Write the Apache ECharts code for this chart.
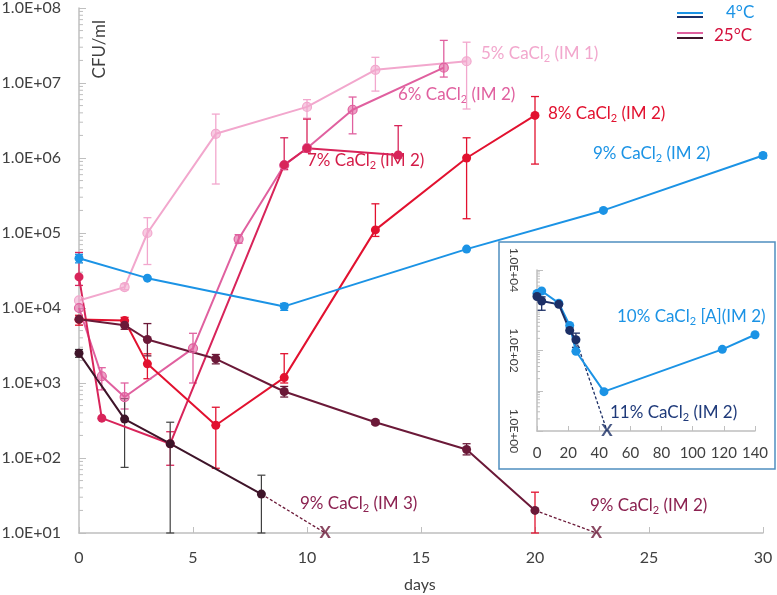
<!DOCTYPE html>
<html><head><meta charset="utf-8">
<script src="https://cdn.jsdelivr.net/npm/echarts@6/dist/echarts.min.js"></script>
<style>html,body{margin:0;padding:0;background:#fff}#c{width:777px;height:595px}</style>
</head><body><div id="c"></div>
<script>
// ---------- data (days, CFU/ml) ----------
const days5 = [0, 2, 3, 6, 10, 13, 17];
const cfu5  = [12600, 19000, 100000, 2100000, 4800000, 15000000, 19500000];
const err5  = [[2, 17500, 21000], [3, 38000, 160000], [6, 450000, 3850000], [10, 3400000, 6000000], [13, 7800000, 22000000], [17, 4500000, 35000000]];

const days6 = [0, 1, 2, 5, 7, 9, 10, 12, 16];
const cfu6  = [10000, 1230, 650, 2900, 83000, 800000, 1350000, 4400000, 16000000];
const err6  = [[1, 810, 1600], [2, 450, 1000], [5, 1000, 4600], [7, 73000, 95000], [12, 2100000, 6500000], [16, 12000000, 37000000]];

const days7 = [0, 1, 4, 9, 10, 14];
const cfu7  = [26000, 340, 155, 810000, 1350000, 1100000];
const err7  = [[0, 20000, 55000], [4, 80, 224], [9, 700000, 1860000], [10, 1200000, 3300000], [14, 1000000, 2700000]];

const days8 = [0, 2, 3, 6, 9, 13, 17, 20];
const cfu8  = [7000, 6800, 1800, 273, 1180, 110000, 1000000, 3700000];
const err8  = [[0, 5900, 8000], [2, 6000, 7500], [3, 1140, 2450], [6, 73, 475], [9, 1000, 2460], [13, 90000, 245000], [17, 155000, 1860000], [20, 830000, 6600000]];

const days9b = [0, 3, 9, 17, 23, 30];            // 4°C, 9% (IM 2)
const cfu9b  = [46000, 25000, 10500, 61000, 200000, 1080000];
const err9b  = [[0, 40000, 52000], [9, 9300, 11500], [30, 1000000, 1150000]];

const days9m = [0, 2, 3, 6, 9, 13, 17, 20];      // 25°C, 9% (IM 2)
const cfu9m  = [7100, 5900, 3800, 2100, 770, 300, 130, 20];
const err9m  = [[2, 5200, 6600], [3, 2300, 6200], [6, 1800, 2400], [9, 650, 900], [13, 280, 320], [17, 110, 155]];
const err9mRed = [[20, 10, 35]];
const x9m = [22.7, 10];

const days9d = [0, 2, 4, 8];                     // 25°C, 9% (IM 3)
const cfu9d  = [2500, 330, 155, 33];
const err9d  = [[0, 2200, 2800], [2, 75, 620], [4, 10, 300], [8, 10, 59]];
const x9d = [10.8, 10];

// inset (4°C)
const days10 = [0, 3, 14, 21, 25, 43, 119, 140];
const cfu10  = [2600, 3000, 1500, 420, 96, 9.5, 107, 246];
const days11 = [0, 3, 14, 21, 25];
const cfu11  = [2200, 1700, 1400, 316, 185];
const err11  = [[3, 1000, 2150], [25, 120, 270]];
const x11 = [45, 1];

const mainXTicks = [0, 30, 5];
const insetXTicks = [0, 140, 20];
const minorMult = [2, 3, 4, 5, 6, 7, 8, 9];
const mainDecades = [10, 100, 1000, 10000, 100000, 1000000, 10000000];
const insetDecades = [1, 10, 100, 1000];

// ---------- styling ----------
const c5 = '#f2a7cd', c6 = '#e0609f', c7 = '#d8245a', c8 = '#e2112f';
const cBlue = '#1b93e5', cMaroon = '#6b1938', cDark = '#3e1429', cNavy = '#1c2f66';
const cLabMaroon = '#8b2150';
const axisCol = '#bfbfbf', txtCol = '#404040';
const FONT = 'Lato, "Open Sans", sans-serif';

const zip = (xs, ys) => xs.map((x, i) => [x, ys[i]]);
const fmtE = v => { const e = Math.round(Math.log10(v)); return '1.0E' + (e < 0 ? '-' : '+') + String(Math.abs(e)).padStart(2, '0'); };

function lineS(xs, ys, color, gi, extra) {
  return Object.assign({
    type: 'line', data: zip(xs, ys), xAxisIndex: gi, yAxisIndex: gi,
    symbol: 'circle', symbolSize: 9, showSymbol: true,
    lineStyle: { color, width: 2 }, itemStyle: { color }, z: 3, animation: false, silent: true
  }, extra || {});
}
function openS(xs, ys, color, rgba, gi) {
  return lineS(xs, ys, color, gi, { itemStyle: { color: rgba, borderColor: color, borderWidth: 1.2 } });
}
function dashS(from, to, color, gi) {
  return { type: 'line', data: [from, to], xAxisIndex: gi, yAxisIndex: gi, symbol: 'none',
    lineStyle: { color, width: 1.3, type: [3, 2] }, z: 2, animation: false, silent: true };
}
function xMark(pt, color, gi) {
  return { type: 'scatter', data: [pt], xAxisIndex: gi, yAxisIndex: gi, symbolSize: 2, clip: false,
    itemStyle: { color: 'rgba(0,0,0,0)' }, z: 6, animation: false, silent: true,
    label: { show: true, position: 'inside', formatter: 'X', color, fontWeight: 'bold', fontSize: 17, fontFamily: FONT } };
}
function errS(data, color, gi, lw) {
  return { type: 'custom', xAxisIndex: gi, yAxisIndex: gi, data, silent: true, z: 2, animation: false,
    encode: { x: 0, y: [1, 2] },
    renderItem: (params, api) => {
      const x = api.value(0), lo = api.value(1), hi = api.value(2);
      const a = api.coord([x, hi]), b = api.coord([x, lo]);
      const w = 4, st = { stroke: color, lineWidth: lw || 1.3 };
      return { type: 'group', children: [
        { type: 'line', shape: { x1: a[0], y1: a[1], x2: b[0], y2: b[1] }, style: st },
        { type: 'line', shape: { x1: a[0] - w, y1: a[1], x2: a[0] + w, y2: a[1] }, style: st },
        { type: 'line', shape: { x1: b[0] - w, y1: b[1], x2: b[0] + w, y2: b[1] }, style: st }
      ] };
    } };
}
function minorS(decades, gi, len) {
  const data = [];
  decades.forEach(d => minorMult.forEach(m => data.push([0, d * m])));
  return { type: 'custom', xAxisIndex: gi, yAxisIndex: gi, data, silent: true, z: 1, animation: false,
    encode: { x: 0, y: 1 }, clip: false,
    renderItem: (params, api) => {
      const p = api.coord([api.value(0), api.value(1)]);
      return { type: 'line', shape: { x1: p[0], y1: p[1], x2: p[0] + len, y2: p[1] }, style: { stroke: axisCol, lineWidth: 1 } };
    } };
}

const chart = echarts.init(document.getElementById('c'), null, { renderer: 'canvas' });

function lbl(x, y, pre, post, color, size) {
  size = size || 17;
  return { type: 'text', left: x, top: y - 12, silent: true,
    style: { text: '{n|' + pre + '}{s|2}{n|' + post + '}', fill: color,
      rich: { n: { fontSize: size, fontFamily: FONT, fill: color, lineHeight: 24, verticalAlign: 'middle' },
              s: { fontSize: Math.round(size * 0.65), fontFamily: FONT, fill: color, lineHeight: 24, verticalAlign: 'bottom', padding: [0, 0, 2, 0] } } } };
}

const yLab = { color: txtCol, fontSize: 16, fontFamily: FONT, margin: 18, formatter: fmtE };

chart.setOption({
  animation: false,
  backgroundColor: '#fff',
  grid: [
    { left: 79, right: 14, top: 8, bottom: 62, containLabel: false, outerBoundsMode: 'none' },
    { left: 537, width: 218, top: 270, height: 161, containLabel: false, outerBoundsMode: 'none' }
  ],
  xAxis: [
    { type: 'value', gridIndex: 0, min: mainXTicks[0], max: mainXTicks[1], interval: mainXTicks[2],
      axisLine: { lineStyle: { color: axisCol, width: 1.5 } },
      axisTick: { show: true, inside: true, length: 6, lineStyle: { color: axisCol } },
      splitLine: { show: false },
      axisLabel: { color: txtCol, fontSize: 16, fontFamily: FONT, margin: 17 } },
    { type: 'value', gridIndex: 1, min: insetXTicks[0], max: insetXTicks[1], interval: insetXTicks[2],
      axisLine: { lineStyle: { color: axisCol, width: 1.5 } },
      axisTick: { show: true, inside: true, length: 5, lineStyle: { color: axisCol } },
      splitLine: { show: false },
      axisLabel: { color: txtCol, fontSize: 15, fontFamily: FONT, margin: 15 } }
  ],
  yAxis: [
    { type: 'log', gridIndex: 0, min: 10, max: 1e8, logBase: 10, splitNumber: 7,
      axisLine: { show: true, lineStyle: { color: axisCol, width: 1.5 } },
      axisTick: { show: true, inside: true, length: 7, lineStyle: { color: axisCol } },
      splitLine: { show: false }, axisLabel: yLab },
    { type: 'log', gridIndex: 1, min: 1, max: 1e4, logBase: 10, splitNumber: 4,
      axisLine: { show: true, lineStyle: { color: axisCol, width: 1.5 } },
      axisTick: { show: true, inside: true, length: 6, lineStyle: { color: axisCol } },
      splitLine: { show: false },
      axisLabel: { color: txtCol, fontSize: 12, fontFamily: FONT, margin: 17, rotate: -90,
        formatter: v => (Math.round(Math.log10(v)) % 2 === 0 ? fmtE(v) : '') } }
  ],
  series: [
    minorS(mainDecades, 0, 4),
    minorS(insetDecades, 1, 3),
    errS(err5, c5, 0), errS(err6, c6, 0), errS(err7, c7, 0), errS(err8, c8, 0),
    errS(err9b, cBlue, 0), errS(err9m, cMaroon, 0), errS(err9mRed, c8, 0), errS(err9d, '#404040', 0, 1.2),
    errS(err11, cNavy, 1),
    openS(days5, cfu5, c5, 'rgba(242,167,205,0.6)', 0),
    openS(days6, cfu6, c6, 'rgba(224,96,159,0.6)', 0),
    lineS(days7, cfu7, c7, 0),
    lineS(days8, cfu8, c8, 0),
    lineS(days9m, cfu9m, cMaroon, 0),
    lineS(days9d, cfu9d, cDark, 0),
    lineS(days9b, cfu9b, cBlue, 0),
    dashS([days9d[days9d.length - 1], cfu9d[cfu9d.length - 1]], x9d, cMaroon, 0),
    dashS([days9m[days9m.length - 1], cfu9m[cfu9m.length - 1]], x9m, cMaroon, 0),
    xMark(x9d, cMaroon, 0), xMark(x9m, cMaroon, 0),
    lineS(days10, cfu10, cBlue, 1),
    lineS(days11, cfu11, cNavy, 1),
    dashS([days11[days11.length - 1], cfu11[cfu11.length - 1]], x11, cNavy, 1),
    xMark(x11, cNavy, 1)
  ],
  graphic: [
    { type: 'rect', shape: { x: 499, y: 242, width: 276, height: 227 }, silent: true, z: 0,
      style: { fill: 'none', stroke: '#4f8fc0', lineWidth: 1.5 } },
    { type: 'text', left: 91, top: 20, rotation: Math.PI / 2, silent: true,
      style: { text: 'CFU/ml', fill: txtCol, fontSize: 17, fontFamily: FONT } },
    { type: 'text', left: 404, top: 577, silent: true,
      style: { text: 'days', fill: txtCol, fontSize: 16, fontFamily: FONT } },
    // legend
    { type: 'line', shape: { x1: 677, y1: 13, x2: 703, y2: 13 }, style: { stroke: cBlue, lineWidth: 2 }, silent: true },
    { type: 'line', shape: { x1: 677, y1: 17, x2: 703, y2: 17 }, style: { stroke: cNavy, lineWidth: 2 }, silent: true },
    { type: 'line', shape: { x1: 677, y1: 33, x2: 703, y2: 33 }, style: { stroke: c6, lineWidth: 2 }, silent: true },
    { type: 'line', shape: { x1: 677, y1: 38, x2: 703, y2: 38 }, style: { stroke: cDark, lineWidth: 2 }, silent: true },
    { type: 'text', left: 726, top: 4, silent: true, style: { text: '4°C', fill: cBlue, fontSize: 17, fontFamily: FONT } },
    { type: 'text', left: 714, top: 27, silent: true, style: { text: '25°C', fill: '#d4103c', fontSize: 17, fontFamily: FONT } },
    // series annotations
    lbl(481, 57, '5% CaCl', ' (IM 1)', c5),
    lbl(398, 98, '6% CaCl', ' (IM 2)', c6),
    lbl(307, 164, '7% CaCl', ' (IM 2)', '#d41c48'),
    lbl(548, 117, '8% CaCl', ' (IM 2)', c8),
    lbl(593, 157, '9% CaCl', ' (IM 2)', cBlue),
    lbl(617, 320, '10% CaCl', ' [A](IM 2)', cBlue),
    lbl(610, 416, '11% CaCl', ' (IM 2)', '#1f3a7a'),
    lbl(300, 507, '9% CaCl', ' (IM 3)', cLabMaroon),
    lbl(590, 509, '9% CaCl', ' (IM 2)', cLabMaroon)
  ]
});
</script></body></html>
